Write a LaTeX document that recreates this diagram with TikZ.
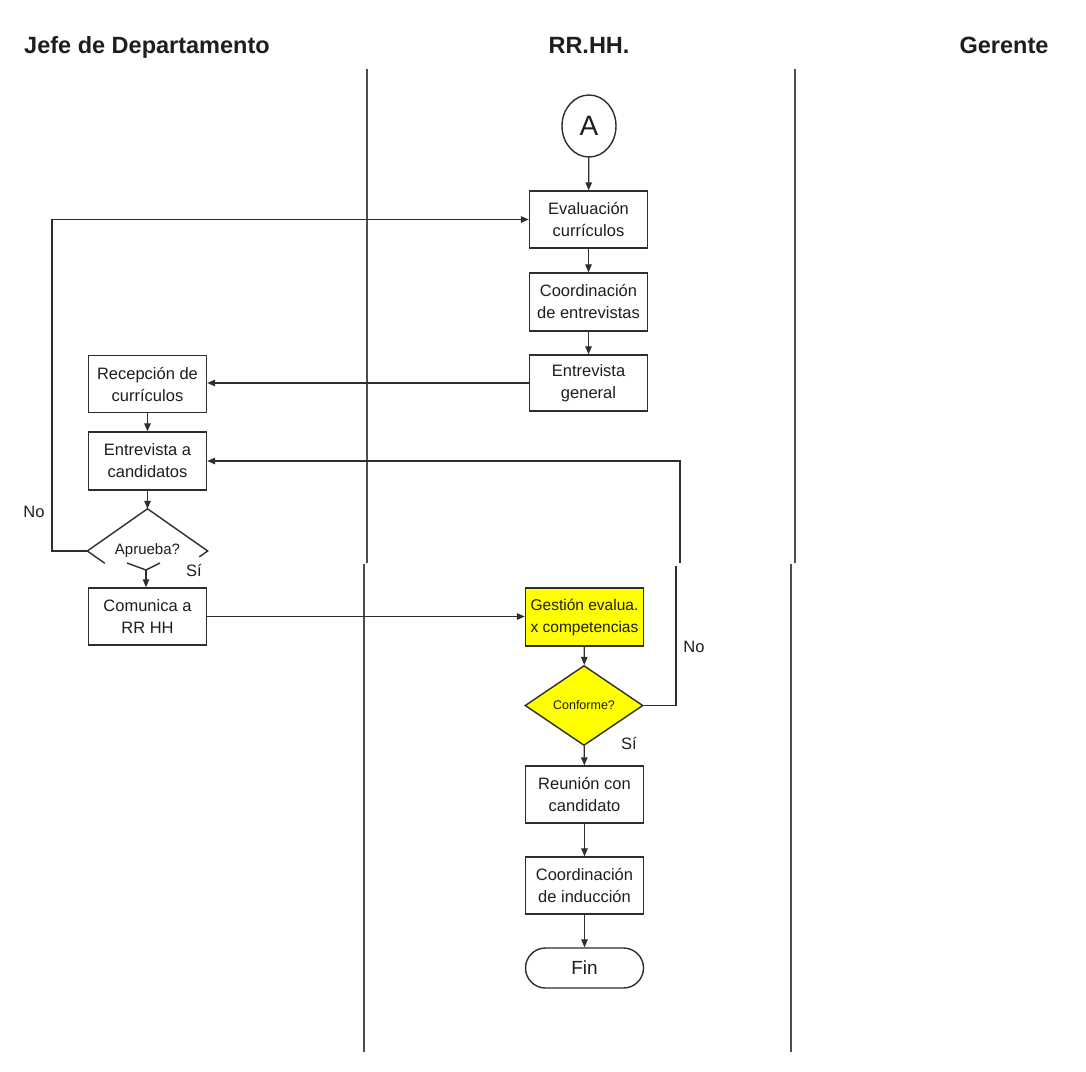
\documentclass[tikz,border=0pt]{standalone}
\usepackage{fontspec}
\setmainfont{Liberation Sans}
\usetikzlibrary{shapes.geometric,arrows.meta,calc}
\definecolor{ink}{HTML}{1E1E1E}
\definecolor{wire}{HTML}{2E2E2E}
\definecolor{hilite}{HTML}{FFFF00}
\tikzset{
  lane/.style={draw=wire!85, line width=1.2pt},
  procbox/.style={draw=wire, line width=1.4pt, rectangle, inner sep=0pt,
    minimum width=118pt, align=center, text=ink,
    font=\fontsize{16.5}{22}\selectfont},
  decision/.style={diamond, inner sep=0pt, minimum width=118pt,
    minimum height=80pt, text=ink},
  flow/.style={draw=wire, line width=1.3pt},
  arr/.style={flow, -{Triangle[length=8pt,width=6.5pt]}},
  lanetitle/.style={anchor=base, text=ink, font=\fontsize{23.5}{28}\selectfont\bfseries},
  branch/.style={text=ink, font=\fontsize{16.5}{19}\selectfont},
}
\begin{document}
\begin{tikzpicture}[x=1pt,y=-1pt]
\useasboundingbox (0,0) rectangle (1086,1071);
\fill[white] (0,0) rectangle (1086,1071);

% lane headings
\node[lanetitle] (tjefe) at (147,53) {Jefe de Departamento};
\node[lanetitle] (trrhh) at (589,53) {RR.HH.};
\node[lanetitle] (tger) at (1004,53) {Gerente};

% lane dividers (two sheets joined at mid height)
\draw[lane] (367,69) -- (367,563);
\draw[lane] (364,564) -- (364,1052);
\draw[lane] (795,69) -- (795,563);
\draw[lane] (791,564) -- (791,1052);

% connector A
\node[ellipse, draw=wire, line width=1.4pt, minimum width=54pt, minimum height=62pt,
  inner sep=0pt, text=ink, font=\fontsize{28}{30}\selectfont] (conA) at (589,126) {A};

% RR.HH. upper column
\node[procbox, minimum height=57pt] (evalc) at (588.5,219.5) {Evaluación\\currículos};
\node[procbox, minimum height=58pt] (coord) at (588.5,302) {Coordinación\\de entrevistas};
\node[procbox, minimum height=56pt] (entgen) at (588.5,383) {Entrevista\\general};

% Jefe de Departamento column
\node[procbox, minimum height=57pt] (recep) at (147.5,384) {Recepción de\\currículos};
\node[procbox, minimum height=58pt] (entcand) at (147.5,461) {Entrevista a\\candidatos};
\node[decision, minimum width=120pt, minimum height=84pt,
  font=\fontsize{15}{17}\selectfont] (ap) at (147.5,551) {\raisebox{-4pt}{Aprueba?}};
\node[procbox, minimum height=57pt] (comun) at (147.5,616.5) {Comunica a\\RR HH};

% RR.HH. lower column
\node[procbox, fill=hilite, minimum height=58pt,
  font=\fontsize{15.5}{22}\selectfont] (gest) at (584.5,617) {Gestión evalua.\\x competencias};
\node[decision, draw=wire, line width=1.4pt, fill=hilite, minimum width=118pt,
  minimum height=80pt, font=\fontsize{12.5}{14}\selectfont] (conf) at (584,705.5) {Conforme?};
\node[procbox, minimum height=57pt] (reun) at (584.5,794.5) {Reunión con\\candidato};
\node[procbox, minimum height=57pt] (induc) at (584.5,885.5) {Coordinación\\de inducción};
\node[procbox, rounded corners=20pt, minimum height=40pt,
  font=\fontsize{19}{22}\selectfont] (fin) at (584.5,968) {Fin};

% outline of the cut decision shape
\draw[flow, line width=1.4pt] ($(ap.west)!0.29!(ap.south)$) -- (ap.west) -- (ap.north)
  -- (ap.east) -- ($(ap.east)!0.14!(ap.south)$);
\coordinate (vl) at (127,563);
\coordinate (vtip) at (146,570);
\coordinate (vr) at (160,563);
\draw[flow, line width=1.4pt] (vl) -- (vtip) -- (vr);

% flow
\draw[arr] (conA) -- (evalc);
\draw[arr] (evalc) -- (coord);
\draw[arr] (coord) -- (entgen);
\draw[arr] (entgen.west) -- (entgen.west -| recep.east);
\draw[arr] (recep) -- (entcand);
\draw[arr] (entcand.south) -- (ap.north);
\draw[arr] (vtip) -- (vtip |- comun.north);
\coordinate (noleft) at (52,551);
\draw[arr] (ap.west) -- (noleft) |- (evalc.west);
\draw[arr] (comun.east) -- (comun.east -| gest.west);
\draw[arr] (gest) -- (conf);
\draw[arr] (conf) -- (reun);
\draw[arr] (reun) -- (induc);
\draw[arr] (induc) -- (fin);
\coordinate (brklow) at (676,566);
\coordinate (brkup) at (680,563);
\draw[flow] (conf.east) -| (brklow);
\draw[arr] (brkup) |- (entcand.east);

% branch labels
\node[branch] (lnoA) at (34,512) {No};
\node[branch] (lsiA) at (194,570) {Sí};
\node[branch] (lnoC) at (694,647) {No};
\node[branch] (lsiC) at (629,743) {Sí};
\end{tikzpicture}
\end{document}
